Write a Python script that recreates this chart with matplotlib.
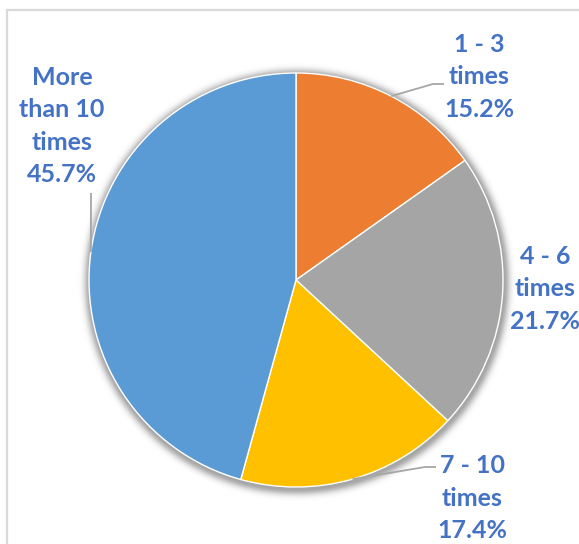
import numpy as np
import matplotlib
matplotlib.use("Agg")
import matplotlib.pyplot as plt
from matplotlib.patches import Rectangle

categories = ["1 - 3\ntimes", "4 - 6\ntimes", "7 - 10\ntimes", "More\nthan 10\ntimes"]
shares = [15.2, 21.7, 17.4, 45.7]
colors = ["#ED7D31", "#A5A5A5", "#FFC000", "#5B9BD5"]

W, H = 579, 544
fig = plt.figure(figsize=(W / 100, H / 100), dpi=100)
ax = fig.add_axes([0, 0, 1, 1])
ax.set_xlim(0, W)
ax.set_ylim(0, H)
ax.set_aspect("equal")
ax.axis("off")

cx, cy, R = 296, 264, 207

# soft outer shadow under the pie
yy, xx = np.mgrid[0:H, 0:W] + 0.5
d = np.hypot(xx - (cx + 1), yy - (cy - 2)) - R
alpha = np.where(d > 0, 0.35 * np.exp(-(d / 6.0) ** 2), 0.35)
shadow = np.zeros((H, W, 4))
shadow[..., 3] = alpha
ax.imshow(shadow, extent=(0, W, 0, H), origin="lower", zorder=1, interpolation="bilinear")

wedges, _ = ax.pie(shares, colors=colors, startangle=90, counterclock=False,
                   center=(cx, cy), radius=R, frame=True,
                   wedgeprops=dict(linewidth=1.0, edgecolor="white"))
for w in wedges:
    w.set_zorder(2)
ax.set_xlim(0, W)
ax.set_ylim(0, H)
ax.axis("off")

# chart border
ax.add_patch(Rectangle((7, -20), W + 20, H - 10 + 20, fill=False,
                       edgecolor="#D9D9D9", linewidth=1.6, zorder=0))

label_color = "#4472C4"
font = dict(family=["Lato", "DejaVu Sans"], fontsize=18, fontweight="bold",
            color=label_color, ha="center", va="center", linespacing=1.5)

# label centres (x, y) and leader-line elbow points
label_pos = [(479, H - 77), (545, H - 289), (472, H - 498), (62, H - 126)]
elbows = [[(433, H - 84), (444, H - 84)], None,
          [(425, H - 467), (436, H - 467)], [(91, H - 193)]]

for w, cat, v, (lx, ly), elb in zip(wedges, categories, shares, label_pos, elbows):
    ax.text(lx, ly, f"{cat}\n{v:.1f}%", zorder=5, **font)
    if elb is None:
        continue
    mid = np.deg2rad((w.theta1 + w.theta2) / 2)
    px, py = cx + R * np.cos(mid), cy + R * np.sin(mid)
    xs = [px] + [p[0] for p in elb]
    ys = [py] + [p[1] for p in elb]
    ax.plot(xs, ys, color="#A6A6A6", linewidth=1.3, zorder=4,
            solid_capstyle="butt")

fig.savefig("out.png", dpi=100)
